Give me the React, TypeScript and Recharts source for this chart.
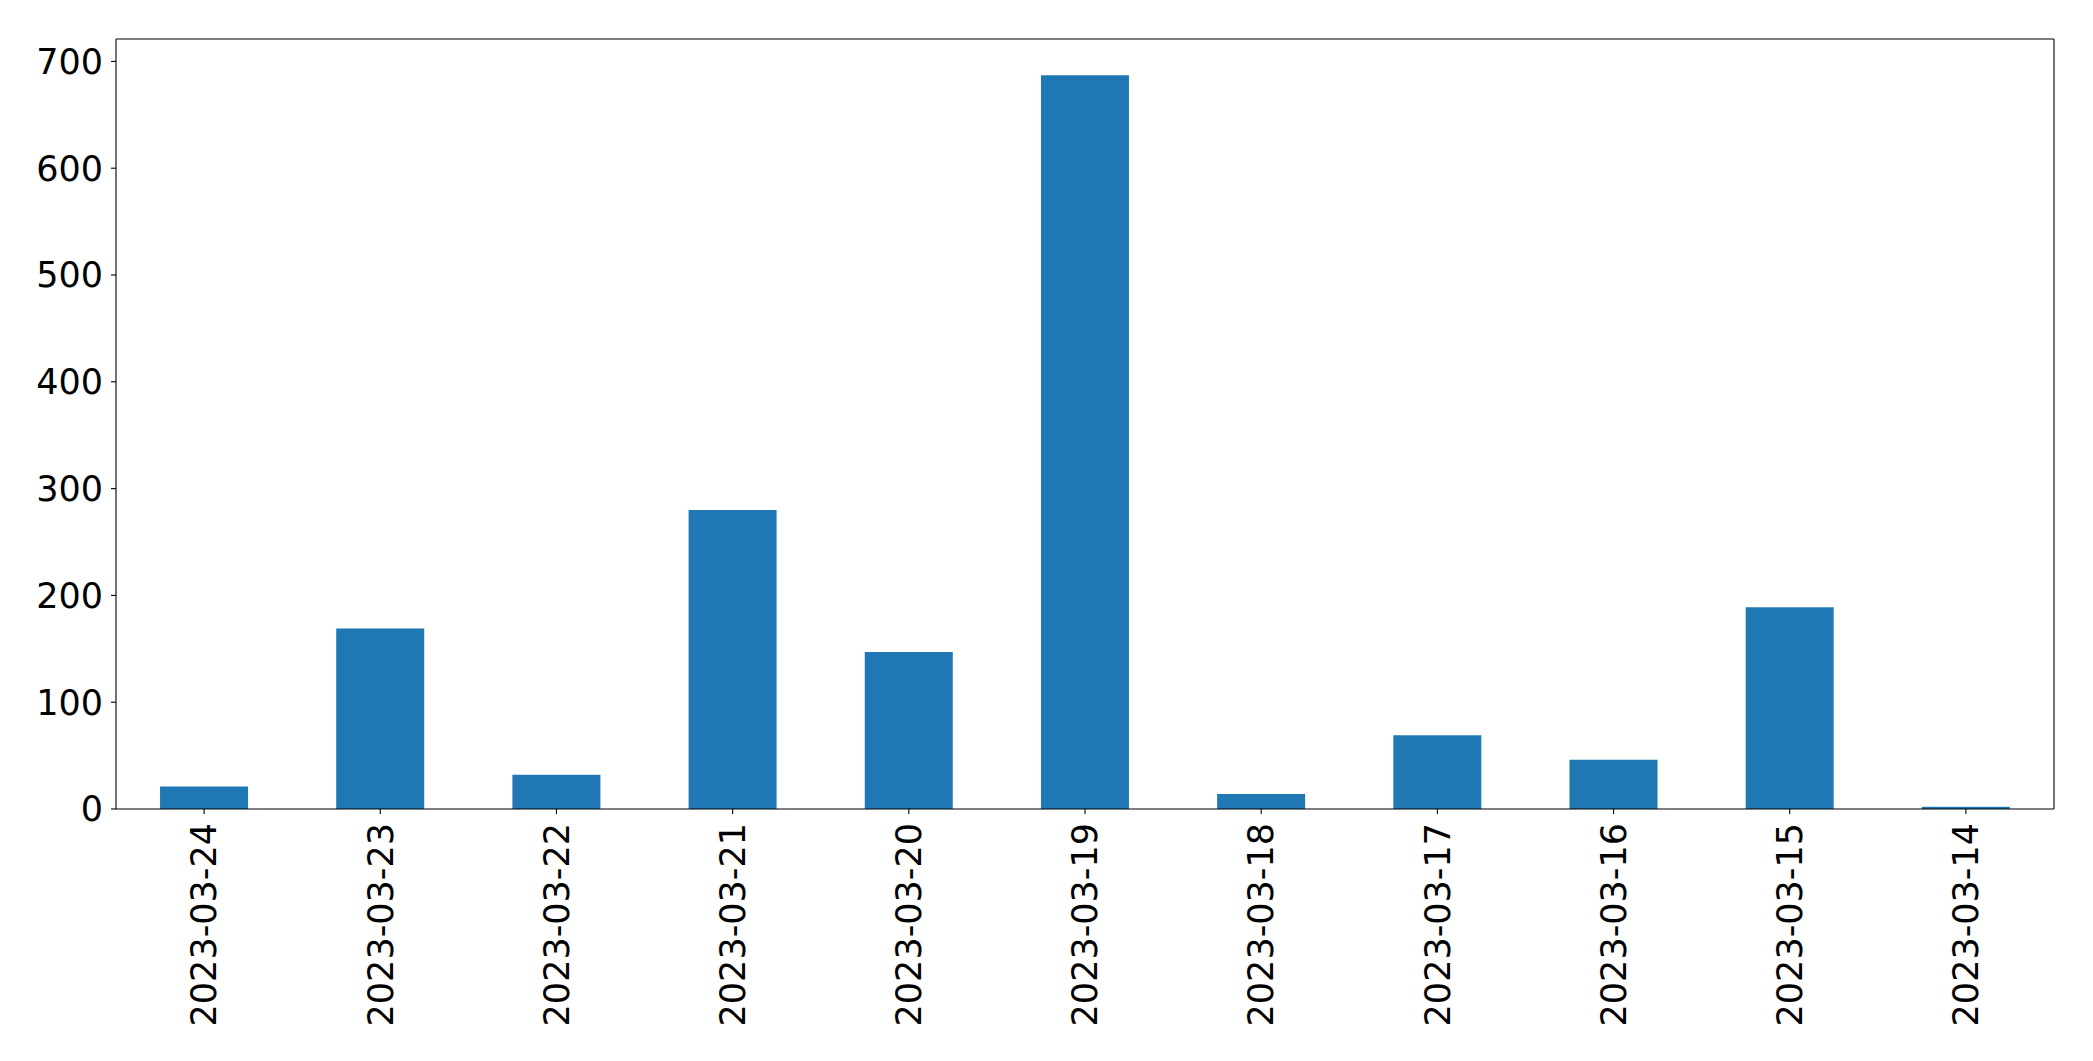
import React from "react";
import { BarChart, Bar, XAxis, YAxis } from "recharts";

const dates = [
  "2023-03-24",
  "2023-03-23",
  "2023-03-22",
  "2023-03-21",
  "2023-03-20",
  "2023-03-19",
  "2023-03-18",
  "2023-03-17",
  "2023-03-16",
  "2023-03-15",
  "2023-03-14",
];
const counts = [21, 169, 32, 280, 147, 687, 14, 69, 46, 189, 2];
const yTicks = [0, 100, 200, 300, 400, 500, 600, 700];

const data = dates.map((date, i) => ({ date, count: counts[i] }));

const FONT = "'DejaVu Sans', sans-serif";
const FS = 35;

function DateTick(props: any) {
  const { x, y, payload } = props;
  return (
    <text
      x={x}
      y={y}
      transform={`rotate(-90, ${x}, ${y})`}
      textAnchor="end"
      dy="0.35em"
      fontSize={FS}
      fontFamily={FONT}
      fill="#000"
    >
      {payload.value}
    </text>
  );
}

export default function App() {
  return (
    <div style={{ position: "absolute", left: 0, top: 0, background: "#fff" }}>
      <BarChart
        width={2093}
        height={1061}
        data={data}
        margin={{ top: 38, right: 38, left: 0, bottom: 0 }}
        barCategoryGap="25%"
      >
        <XAxis
          dataKey="date"
          interval={0}
          height={252}
          tickSize={5}
          tickMargin={9}
          tick={<DateTick />}
          axisLine={{ stroke: "#000", strokeWidth: 1.1 }}
          tickLine={{ stroke: "#000", strokeWidth: 1.1 }}
        />
        <XAxis
          xAxisId="top"
          dataKey="date"
          orientation="top"
          height={1}
          tick={false}
          tickLine={false}
          axisLine={{ stroke: "#000", strokeWidth: 1.1 }}
        />
        <YAxis
          width={116}
          domain={[0, 721]}
          ticks={yTicks}
          allowDataOverflow
          tickSize={5}
          tickMargin={8}
          tick={{ fontSize: FS, fontFamily: FONT, fill: "#000" }}
          axisLine={{ stroke: "#000", strokeWidth: 1.1 }}
          tickLine={{ stroke: "#000", strokeWidth: 1.1 }}
        />
        <YAxis
          yAxisId="right"
          orientation="right"
          width={1}
          domain={[0, 721]}
          tick={false}
          tickLine={false}
          axisLine={{ stroke: "#000", strokeWidth: 1.1 }}
        />
        <Bar dataKey="count" fill="#1f77b4" isAnimationActive={false} />
      </BarChart>
    </div>
  );
}
